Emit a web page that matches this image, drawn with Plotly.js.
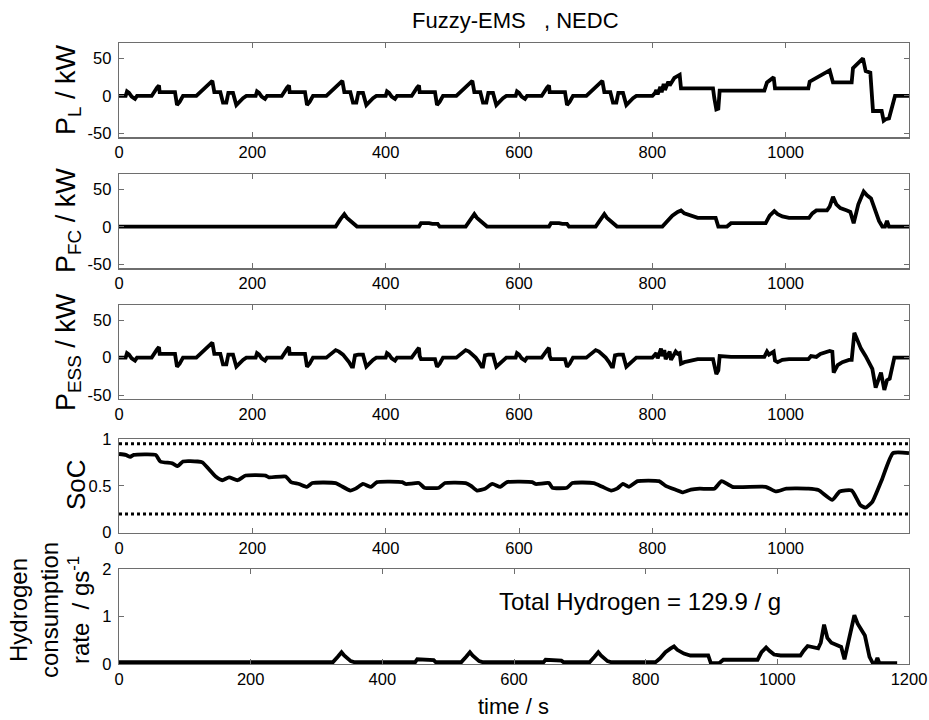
<!DOCTYPE html>
<html>
<head>
<meta charset="utf-8">
<script src="https://cdn.plot.ly/plotly-3.0.1.min.js"></script>
<style>html,body{margin:0;padding:0;background:#fff;}</style>
</head>
<body>
<div id="chart" style="width:929px;height:720px;"></div>
<script>
// ---- Data ----
const pL_t = [
  0,10,12,15,19,24,27,49,57,60,61,84,87,91,96,116,140,143,152,156,161,164,171,176,186,191,
  195,205,207,210,214,219,222,244,252,255,256,279,282,286,291,311,335,338,347,351,356,359,366,371,381,386,
  390,400,402,405,409,414,417,439,447,450,451,474,477,481,486,506,530,533,542,546,551,554,561,566,576,581,
  585,595,597,600,604,609,612,634,642,645,646,669,672,676,681,701,725,728,737,741,746,749,756,761,771,776,
  800,804,806,808,812,814,817,819,824,826,833,841,843,891,893,896,899,901,968,972,982,984,1034,1036,1066,
  1071,1099,1101,1116,1120,1127,1131,1144,1147,1150,1155,1164,1185
];
const pL_v = [
  0,0,6,4,-1,-4,0,0,11,14,5,5,-12,-8,0,0,20,5,5,-9,-9,4,4,-12,-3,0,
  0,0,6,4,-1,-4,0,0,11,14,5,5,-12,-8,0,0,20,5,5,-9,-9,4,4,-12,-3,0,
  0,0,6,4,-1,-4,0,0,11,14,5,5,-12,-8,0,0,20,5,5,-9,-9,4,4,-12,-3,0,
  0,0,6,4,-1,-4,0,0,11,14,5,5,-12,-8,0,0,20,5,5,-9,-9,4,4,-12,-3,0,
  0,4,8,2,12,5,16,8,19,14,24,28,10,10,-3,-18,-17,7,7,18,25,10,10,19,34,
  18,18,37,50,33,31,-20,-20,-33,-31,-30,0,0
];

const pFC_t = [
  0,325,332,338,342,347,352,357,450,453,465,470,478,481,520,527,533,537,542,547,552,
  645,648,660,665,672,675,715,722,728,732,737,742,747,815,822,830,838,843,848,858,868,
  895,899,912,918,970,976,983,988,995,1005,1035,1040,1046,1062,1066,1071,1076,1082,
  1092,1097,1102,1109,1117,1122,1128,1133,1140,1145,1149,1152,1155,1185
];
const pFC_v = [
  0.5,0.5,10,17,12,8,3,0.5,0.5,5,5,4,4,0.5,0.5,10,17,12,8,3,0.5,
  0.5,5,5,4,4,0.5,0.5,10,17,12,8,3,0.5,0.5,8,15,20,22,18,15,12,
  12,0.5,0.5,5,5,15,21,17,14,12,12,18,22,22,27,40,30,25,
  22,20,5,30,47,42,38,25,8,0.5,0.5,8,0.5,0.5
];

const pESS_t = [
  0,10,12,15,19,24,27,49,57,60,61,84,87,91,96,116,140,143,152,156,161,164,171,176,186,191,
  195,205,207,210,214,219,222,244,252,255,256,279,282,286,291,311,325,330,336,340,345,349,351,354,359,366,371,381,386,
  390,400,402,405,409,414,417,439,447,450,451,453,474,477,481,486,506,520,525,531,535,540,544,546,549,554,561,566,576,581,
  585,595,597,600,604,609,612,634,642,645,646,648,669,672,676,681,701,715,720,726,730,735,739,741,744,749,756,761,771,776,
  800,806,808,813,815,818,820,826,828,835,838,841,843,848,858,868,891,893,896,899,901,918,968,972,975,
  982,984,988,995,1005,1034,1038,1046,1052,1060,1066,1070,1072,1078,1085,1095,1099,1103,1108,1113,
  1120,1126,1130,1135,1140,1143,1148,1152,1156,1163,1185
];
const pESS_v = [
  0,0,6,4,-1,-4,0,0,11,14,5,5,-12,-8,0,0,20,5,5,-9,-9,4,4,-12,-3,0,
  0,0,6,4,-1,-4,0,0,11,14,5,5,-12,-8,0,0,10,8,4,0,-6,-12,-12,3,4,4,-12,-3,0,
  0,0,6,4,-1,-4,0,0,10,13,2,-2,-2,-12,-8,0,0,10,8,4,0,-6,-12,-12,3,4,4,-12,-3,0,
  0,0,6,4,-1,-4,0,0,10,13,2,-2,-2,-12,-8,0,0,10,8,4,0,-6,-12,-12,3,4,4,-12,-3,0,
  0,6,-1,12,2,10,-2,8,-3,8,5,6,-8,-6,-4,-2,-2,-10,-22,-17,2,1,1,8,4,
  8,-4,-6,-3,-2,-2,2,1,5,8,9,8,-20,-10,-6,-3,-3,33,22,12,
  2,-10,-15,-40,-25,-20,-43,-30,-28,0,0
];

const soc_t = [
  0,10,17,22,55,62,80,88,96,118,125,145,155,165,178,190,220,225,250,258,
  270,282,290,325,333,347,355,366,378,387,425,430,450,458,480,489,520,528,537,549,
  560,572,582,620,625,645,650,672,680,712,725,738,747,756,765,778,810,820,838,845,
  858,871,893,904,920,970,985,1001,1034,1049,1070,1081,1099,1112,1120,1130,1144,1161,1185
];
const soc_v = [
  0.84,0.83,0.81,0.83,0.83,0.76,0.74,0.71,0.76,0.76,0.75,0.60,0.56,0.59,0.56,0.61,0.61,0.59,0.60,0.54,
  0.52,0.49,0.53,0.53,0.50,0.45,0.47,0.52,0.49,0.54,0.54,0.52,0.53,0.48,0.48,0.53,0.53,0.50,0.45,0.47,
  0.52,0.49,0.54,0.54,0.52,0.53,0.48,0.48,0.53,0.53,0.49,0.45,0.47,0.52,0.49,0.55,0.55,0.50,0.45,0.43,
  0.46,0.47,0.47,0.55,0.49,0.49,0.44,0.47,0.47,0.455,0.35,0.44,0.45,0.295,0.267,0.33,0.56,0.85,0.85
];
const socLimit_t = [0, 1185];
const socUpper_v = [0.95, 0.95];
const socLower_v = [0.2, 0.2];

const h2_t = [
  0,325,332,338,342,347,352,357,450,453,465,470,478,481,520,527,533,537,542,547,552,
  645,648,660,665,672,675,715,722,728,732,737,742,747,815,822,830,838,843,848,858,868,
  895,899,912,918,970,976,983,988,995,1005,1035,1040,1046,1062,1066,1071,1076,1082,
  1092,1097,1102,1109,1117,1122,1128,1133,1140,1145,1149,1152,1155,1182
];
const h2_v = [
  0.04,0.04,0.15,0.25,0.18,0.12,0.06,0.04,0.04,0.1,0.09,0.08,0.08,0.04,0.04,0.15,0.25,0.18,0.12,0.06,0.04,
  0.04,0.09,0.08,0.07,0.07,0.04,0.04,0.15,0.25,0.18,0.12,0.06,0.04,0.04,0.12,0.25,0.33,0.37,0.3,0.22,0.18,
  0.18,0.02,0.02,0.09,0.09,0.25,0.35,0.28,0.2,0.18,0.18,0.28,0.38,0.33,0.45,0.83,0.55,0.45,
  0.38,0.36,0.1,0.5,1.03,0.85,0.72,0.6,0.15,0.02,0.02,0.13,0.02,0.02
];

const xTicks = [0, 200, 400, 600, 800, 1000];
const xTicksLast = [0, 200, 400, 600, 800, 1000, 1200];
const powerTicks = [-50, 0, 50];
const socTicks = [0, 0.5, 1];
const h2Ticks = [0, 1, 2];

// ---- Styling ----
const W = 929, H = 720;
const narrow = "'Liberation Sans Narrow', 'Arial Narrow', 'Liberation Sans', Arial, sans-serif";
const regular = "'Liberation Sans', Arial, sans-serif";
const lineStyle = {color: '#000', width: 3.8};
const xDom = [119 / W, 909 / W];
function yDom(top, bottom) { return [1 - bottom / H, 1 - top / H]; }

const axisCommon = {
  showline: true, linecolor: '#6e6e6e', linewidth: 1.3, mirror: 'ticks',
  ticks: 'inside', ticklen: 5, tickwidth: 1, tickcolor: '#6e6e6e',
  showgrid: false, zeroline: false, fixedrange: true,
  tickfont: {family: narrow, size: 16.5, color: '#000'}
};
function xAx(anchor, range, ticks) {
  return Object.assign({}, axisCommon, {domain: xDom, anchor: anchor, range: range,
    tickmode: 'array', tickvals: ticks, ticktext: ticks.map(String), ticklabelstandoff: 0});
}
function yAx(anchor, dom, range, ticks) {
  return Object.assign({}, axisCommon, {domain: dom, anchor: anchor, range: range,
    tickmode: 'array', tickvals: ticks, ticktext: ticks.map(String), ticklabelstandoff: 3});
}

const traces = [
  {x: pL_t, y: pL_v, xaxis: 'x', yaxis: 'y', mode: 'lines', line: lineStyle},
  {x: pFC_t, y: pFC_v, xaxis: 'x2', yaxis: 'y2', mode: 'lines', line: lineStyle},
  {x: pESS_t, y: pESS_v, xaxis: 'x3', yaxis: 'y3', mode: 'lines', line: lineStyle},
  {x: socLimit_t, y: socUpper_v, xaxis: 'x4', yaxis: 'y4', mode: 'lines', line: {color: '#000', width: 3, dash: 'dot'}},
  {x: socLimit_t, y: socLower_v, xaxis: 'x4', yaxis: 'y4', mode: 'lines', line: {color: '#000', width: 3, dash: 'dot'}},
  {x: soc_t, y: soc_v, xaxis: 'x4', yaxis: 'y4', mode: 'lines', line: {color: '#000', width: 3.8, shape: 'spline', smoothing: 0.5}},
  {x: h2_t, y: h2_v, xaxis: 'x5', yaxis: 'y5', mode: 'lines', line: lineStyle}
];

function yTitle(text, x, y, size) {
  return {text: text, xref: 'paper', yref: 'paper', x: x / W, y: 1 - y / H,
    xanchor: 'center', yanchor: 'middle', textangle: -90, showarrow: false,
    font: {family: regular, size: size, color: '#000'}};
}

const layout = {
  width: W, height: H,
  margin: {l: 0, r: 0, t: 0, b: 0},
  paper_bgcolor: '#fff', plot_bgcolor: '#fff',
  showlegend: false,
  xaxis: xAx('y', [0, 1185], xTicks),
  yaxis: yAx('x', yDom(43.3, 137.3), [-55, 70], powerTicks),
  xaxis2: xAx('y2', [0, 1185], xTicks),
  yaxis2: yAx('x2', yDom(174.3, 268.3), [-55, 70], powerTicks),
  xaxis3: xAx('y3', [0, 1185], xTicks),
  yaxis3: yAx('x3', yDom(305, 399), [-55, 70], powerTicks),
  xaxis4: xAx('y4', [0, 1185], xTicks),
  yaxis4: yAx('x4', yDom(439, 532.7), [0, 1], socTicks),
  xaxis5: xAx('y5', [0, 1200], xTicksLast),
  yaxis5: yAx('x5', yDom(569.3, 664), [0, 2], h2Ticks),
  annotations: [
    {text: 'Fuzzy-EMS\u00a0\u00a0\u00a0, NEDC', xref: 'paper', yref: 'paper', x: 515 / W, y: 1 - 20 / H,
     xanchor: 'center', yanchor: 'middle', showarrow: false, font: {family: narrow, size: 22, color: '#000'}},
    yTitle('P<sub>L</sub> / kW', 68, 90, 27),
    yTitle('P<sub>FC</sub> / kW', 68, 221, 27),
    yTitle('P<sub>ESS</sub> / kW', 68, 352, 27),
    yTitle('SoC', 76, 485, 26),
    yTitle('Hydrogen<br>consumption<br>rate\u00a0\u00a0/ gs<sup>-1</sup>', 49, 610, 24),
    {text: 'Total Hydrogen = 129.9 / g', xref: 'paper', yref: 'paper', x: 640 / W, y: 1 - 601 / H,
     xanchor: 'center', yanchor: 'middle', showarrow: false, font: {family: narrow, size: 24, color: '#000'}},
    {text: 'time / s', xref: 'paper', yref: 'paper', x: 513 / W, y: 1 - 706 / H,
     xanchor: 'center', yanchor: 'middle', showarrow: false, font: {family: narrow, size: 22, color: '#000'}}
  ]
};

Plotly.newPlot('chart', traces, layout, {staticPlot: true, displayModeBar: false});
</script>
</body>
</html>
